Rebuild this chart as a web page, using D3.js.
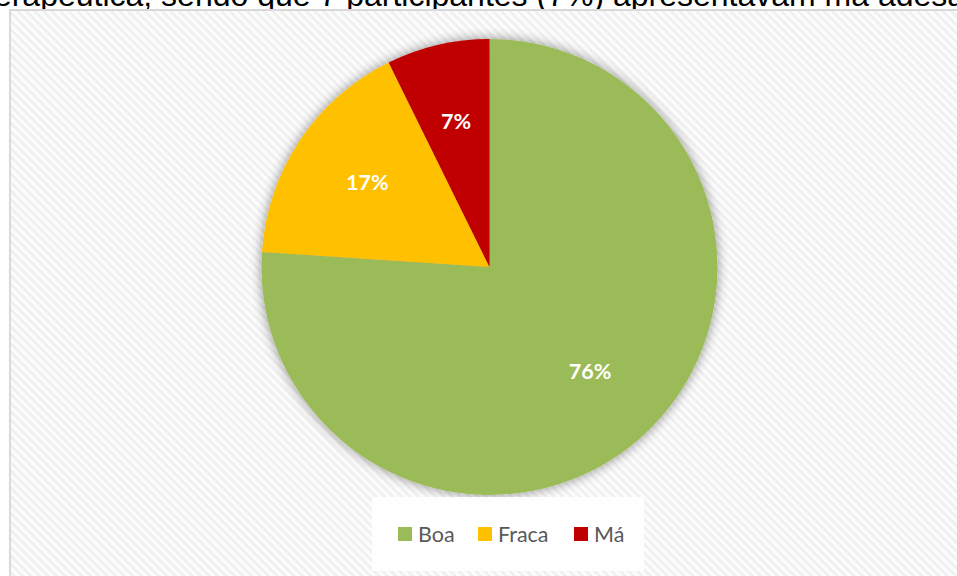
<!DOCTYPE html>
<html>
<head>
<meta charset="utf-8">
<script src="https://cdn.jsdelivr.net/npm/d3@7"></script>
<style>
  html, body { margin: 0; padding: 0; background: #ffffff; }
  svg { display: block; }
</style>
</head>
<body>
<svg id="chart" width="957" height="576"></svg>
<script>
// Adesão terapêutica: número de participantes por categoria
const categories = ["Boa", "Fraca", "Má"];
const counts = [73, 16, 7];
const colors = ["#9bbb59", "#ffc000", "#c00000"];
const captionText = "terapêutica, sendo que 7 participantes (7%) apresentavam má adesão.";

const W = 957, H = 576;
const svg = d3.select("#chart");
const defs = svg.append("defs");

// diagonal hatch used as the chart area fill
const pat = defs.append("pattern")
  .attr("id", "hatch")
  .attr("patternUnits", "userSpaceOnUse")
  .attr("width", 6).attr("height", 6)
  .attr("patternTransform", "rotate(45)");
pat.append("rect").attr("width", 6).attr("height", 6).attr("fill", "#fcfcfc");
pat.append("rect").attr("width", 6).attr("height", 2.6).attr("fill", "#efefef");

// soft shadow around the pie
const f = defs.append("filter").attr("id", "shadow")
  .attr("x", "-20%").attr("y", "-20%").attr("width", "140%").attr("height", "140%");
f.append("feGaussianBlur").attr("in", "SourceAlpha").attr("stdDeviation", 6).attr("result", "b");
f.append("feComponentTransfer").attr("in", "b").attr("result", "s")
  .append("feFuncA").attr("type", "linear").attr("slope", 0.45);
const m = f.append("feMerge");
m.append("feMergeNode").attr("in", "s");
m.append("feMergeNode").attr("in", "SourceGraphic");

// caption line from the surrounding text, partly hidden behind the chart frame
svg.append("text")
  .attr("x", -15).attr("y", 6)
  .attr("font-family", "Liberation Sans, Arial, sans-serif")
  .attr("font-size", 32)
  .attr("fill", "#000")
  .text(captionText);

// chart frame
svg.append("rect")
  .attr("x", 10).attr("y", 10)
  .attr("width", W + 20).attr("height", H + 20)
  .attr("fill", "url(#hatch)")
  .attr("stroke", "#d9d9d9").attr("stroke-width", 2);

const cx = 489.5, cy = 267, r = 228;
const total = d3.sum(counts);
const data = categories.map((c, i) => ({ cat: c, value: counts[i], color: colors[i] }));

const pie = d3.pie().sort(null).value(d => d.value);
const arcs = pie(data);
const arc = d3.arc().innerRadius(0).outerRadius(r);
const labelArc = d3.arc().innerRadius(r * 0.645).outerRadius(r * 0.645);

const g = svg.append("g").attr("transform", `translate(${cx},${cy})`);
g.append("g").attr("filter", "url(#shadow)")
  .selectAll("path").data(arcs).join("path")
  .attr("d", arc)
  .attr("fill", d => d.data.color);

g.selectAll("text.lbl").data(arcs).join("text")
  .attr("class", "lbl")
  .attr("transform", d => `translate(${labelArc.centroid(d)})`)
  .attr("text-anchor", "middle")
  .attr("dy", "0.22em")
  .attr("font-family", "Lato, 'Open Sans', sans-serif")
  .attr("font-weight", "bold")
  .attr("font-size", 21.5)
  .attr("fill", "#ffffff")
  .text(d => Math.round(d.data.value / total * 100) + "%");

// legend
const lg = svg.append("g");
lg.append("rect")
  .attr("x", 372).attr("y", 497).attr("width", 272).attr("height", 74)
  .attr("fill", "#ffffff").attr("fill-opacity", 0.92);
const legendX = d3.scaleOrdinal().domain(categories).range([398, 478, 574]);
const items = lg.selectAll("g.item").data(data).join("g")
  .attr("class", "item")
  .attr("transform", d => `translate(${legendX(d.cat)},527)`);
items.append("rect").attr("width", 14).attr("height", 14).attr("fill", d => d.color);
items.append("text")
  .attr("x", 20).attr("y", 14.5)
  .attr("font-family", "Lato, 'Open Sans', sans-serif")
  .attr("font-size", 21.5)
  .attr("fill", "#595959")
  .text(d => d.cat);
</script>
</body>
</html>
